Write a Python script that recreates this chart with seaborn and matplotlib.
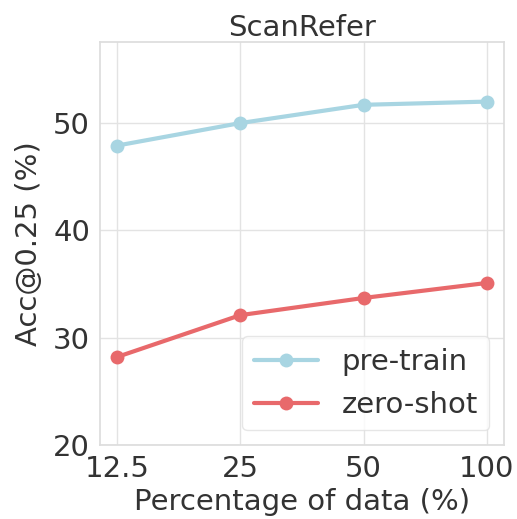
import matplotlib
matplotlib.use("Agg")
import matplotlib.pyplot as plt
import seaborn as sns
import pandas as pd

percent_labels = ["12.5", "25", "50", "100"]
pretrain = [47.9, 50.0, 51.7, 52.0]
zeroshot = [28.2, 32.1, 33.7, 35.1]

sns.set_theme(style="whitegrid")
plt.rcParams['font.family'] = ['DejaVu Sans']

df = pd.DataFrame({
    "x": list(range(len(percent_labels))) * 2,
    "acc": pretrain + zeroshot,
    "method": ["pre-train"] * 4 + ["zero-shot"] * 4,
})

fig, ax = plt.subplots(figsize=(5.17, 5.19), dpi=100)
sns.lineplot(data=df, x="x", y="acc", hue="method", marker="o",
             palette={"pre-train": "#a8d5e2", "zero-shot": "#e8696b"},
             linewidth=3, markersize=10, markeredgewidth=0, ax=ax)

ax.set_xticks(range(len(percent_labels)))
ax.set_xticklabels(percent_labels)
ax.set_xlim(-0.14, 3.14)
ax.set_ylim(20, 57.55)
ax.set_yticks([20, 30, 40, 50])
ax.tick_params(labelsize=21, pad=1, colors="#333333")
ax.set_xlabel("Percentage of data (%)", fontsize=21, labelpad=4, color="#333333")
ax.set_ylabel("Acc@0.25 (%)", fontsize=21, labelpad=7, color="#333333")
ax.set_title("ScanRefer", fontsize=21, pad=4, color="#333333")
for s in ax.spines.values():
    s.set_color("#dddddd")
ax.grid(color="#e3e3e3")
leg = ax.legend(loc="lower right", fontsize=21, frameon=True, handlelength=2.2)
leg.get_frame().set_edgecolor("#e0e0e0")
for t in leg.get_texts():
    t.set_color("#333333")

plt.subplots_adjust(left=0.193, right=0.975, top=0.919, bottom=0.1426)
fig.savefig("out.png", dpi=100)
